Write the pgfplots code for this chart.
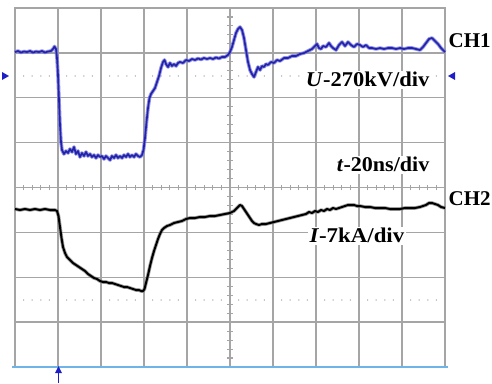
\documentclass[border=0pt]{standalone}
\usepackage{pgfplots}
\pgfplotsset{compat=1.18}
\usepackage{pgfplotstable}
\usepackage{fontspec}
\setmainfont{Liberation Serif}
\definecolor{gridgray}{RGB}{165,165,165}
\definecolor{tracebl}{RGB}{35,35,170}
\definecolor{halobl}{RGB}{120,120,225}
\definecolor{halobk}{RGB}{120,120,120}
\definecolor{basebl}{RGB}{110,180,230}
\definecolor{markbl}{RGB}{30,30,200}

% CH1 trace (screen coordinates: x = horizontal position, y = vertical position from top)
\pgfplotstableread{
x y
15 52
18 51
21 52.5
24 51.5
27 52
30 51
33 52.5
36 51.5
39 52
42 51
45 52.5
48 51.5
51 51
53 49
54.5 46.5
56 49
57 58
58 75
59 100
60 125
61 142
62 150
64 154
66 151
68 153
70 149
72 152
74 147
76 154
78 151
80 157
82 153
84 156
86 152
88 156
90 154
92 157
94 155
96 158
98 155
100 157
102 156
104 159
106 156
108 158
110 160
112 156
114 158
116 155
118 158
120 156
122 158
124 155
126 157
128 154
130 157
132 155
134 157
136 154
138 156
140 157
142 155
143.5 150
145 138
146.5 122
148 108
149.5 98
151 94
153 91
155 88
157 82
159 76
161 68
163 62
164.5 60
166 64
168 67
170 63
172 66
174 64
176 66
178 63
180 62
183 63
186 60
189 61
192 59
195 60
198 58.5
201 59.5
204 58
207 59
210 58
213 59
216 57.5
219 58.5
222 57
225 57
228 55
230 52
232 47
234 40
236 33
238 29
240 27
242 30
244 38
246 50
248 62
250 70
252 74
254 77
256 72
258 67
260 70
262 66
264 67
266 64
268 65
271 62
274 63
277 60
280 61
284 58
288 58
292 56
296 56
300 54
304 53
308 51
312 49
315 46
317 44
319 48
321 49
323 46
326 47
329 43
331 46
333 48
336 50
339 45
342 42
345 46
348 42
351 45
354 47
357 44
360 45
363 47
366 45
369 48
372 48
376 49
380 48
384 49
388 48
392 48
396 49
400 48
404 49
408 48
412 48
416 49
420 50
423 47
426 43
429 39
432 38
435 41
438 44
441 48
443 50
445 52
}\chone

% CH2 trace
\pgfplotstableread{
x y
15 209
20 210
25 209
30 210
35 209
40 210
45 209
50 210
55 210
57 211
58.5 216
60 227
61.5 238
63 247
65 253
67 257
70 260
73 263
76 265
79 267
82 269
85 271
88 274
91 276
94 278
97 279
100 281
103 282
106 282
109 283
112 283
115 284
118 285
121 286
124 287
127 287
130 288
133 289
136 290
139 290
141 291
143 291
144.5 289
146 283
148 275
150 266
152 258
154 251
156 245
158 239
160 234
162 230
164 228
167 226
170 225
174 223
178 222
182 221
186 219
190 218
195 218
200 217
205 217
210 216
215 216
220 215
225 214
230 213
234 211
237 208
240 205
242 206
244 209
246 212
248 215
250 218
252 221
254 223
256 224
259 225
262 224
266 224
270 223
274 222
278 221
282 220
286 219
290 218
294 217
298 216
302 215
306 214
309 212
312 213
315 211
318 212
321 210
324 211
327 209
330 210
333 208
336 209
339 208
342 207
345 206
348 205
351 205
354 205
357 206
360 206
365 207
370 207
375 208
380 208
385 208
390 209
395 209
400 209
405 208
410 208
415 208
420 207
423 206
426 205
429 203
432 203
435 204
438 205
441 207
445 208
}\chtwo

\begin{document}
\begin{tikzpicture}[x=1pt,y=1pt]
\useasboundingbox (0,0) rectangle (492,383);
\coordinate (axc) at (230,195.5);
% minor ticks on centre lines
\foreach \i in {1,...,49} {
  \draw[gridgray, line width=1.1pt] ({15+\i*8.6},192.7) -- ({15+\i*8.6},198.3);
}
\foreach \i in {1,...,39} {
  \draw[gridgray, line width=1.1pt] (227.2,{375-\i*8.975}) -- (232.8,{375-\i*8.975});
}
% dotted reference levels
\foreach \i in {1,...,49} {
  \fill[gridgray] ({15+\i*8.6},307) circle (0.75pt);
  \fill[gridgray] ({15+\i*8.6},83) circle (0.75pt);
}
\begin{axis}[
  at={(axc)}, anchor=center,
  scale only axis, width=430pt, height=359pt,
  xmin=15, xmax=445, ymin=8, ymax=367, y dir=reverse,
  xtick={15,58,101,144,187,230,273,316,359,402,445},
  ytick={8,52.875,97.75,142.625,187.5,232.375,277.25,322.125,367},
  xticklabels={}, yticklabels={},
  major tick length=0pt,
  grid=major,
  major grid style={gridgray, line width=1.3pt},
  axis line style={gridgray, line width=1.3pt},
  clip=false,
]
\addplot[halobl, line width=3.6pt, line join=round, opacity=0.8] table[x=x,y=y] {\chone};
\addplot[tracebl, line width=1.7pt, line join=round] table[x=x,y=y] {\chone};
\addplot[halobk, line width=3.6pt, line join=round, opacity=0.7] table[x=x,y=y] {\chtwo};
\addplot[black, line width=2.0pt, line join=round] table[x=x,y=y] {\chtwo};
\end{axis}
% bottom base line and trigger arrow
\draw[basebl, line width=2pt] (12,16) -- (448,16);
\draw[markbl, line width=1.2pt] (58.5,0) -- (58.5,11);
\fill[markbl] (58.5,17) -- (55,10) -- (62,10) -- cycle;
% channel markers
\fill[markbl] (2,311) -- (2,303) -- (9,307) -- cycle;
\fill[markbl] (455,311) -- (455,303) -- (448,307) -- cycle;
% labels
\begin{scope}[every node/.style={font=\bfseries\fontsize{21}{24}\selectfont, inner sep=1.5pt}]
\node[anchor=base west] at (447,335) {CH1};
\node[anchor=base west] at (447,177) {CH2};
\node[anchor=base east, fill=white] at (431,296) {\scalebox{1.07}[1]{\textit{U}-270kV/div}};
\node[anchor=base east, fill=white] at (431,211) {\scalebox{1.05}[1]{\textit{t}-20ns/div}};
\node[anchor=base east, fill=white] at (406,140) {\scalebox{1.09}[1]{\textit{I}-7kA/div}};
\end{scope}
\end{tikzpicture}
\end{document}
